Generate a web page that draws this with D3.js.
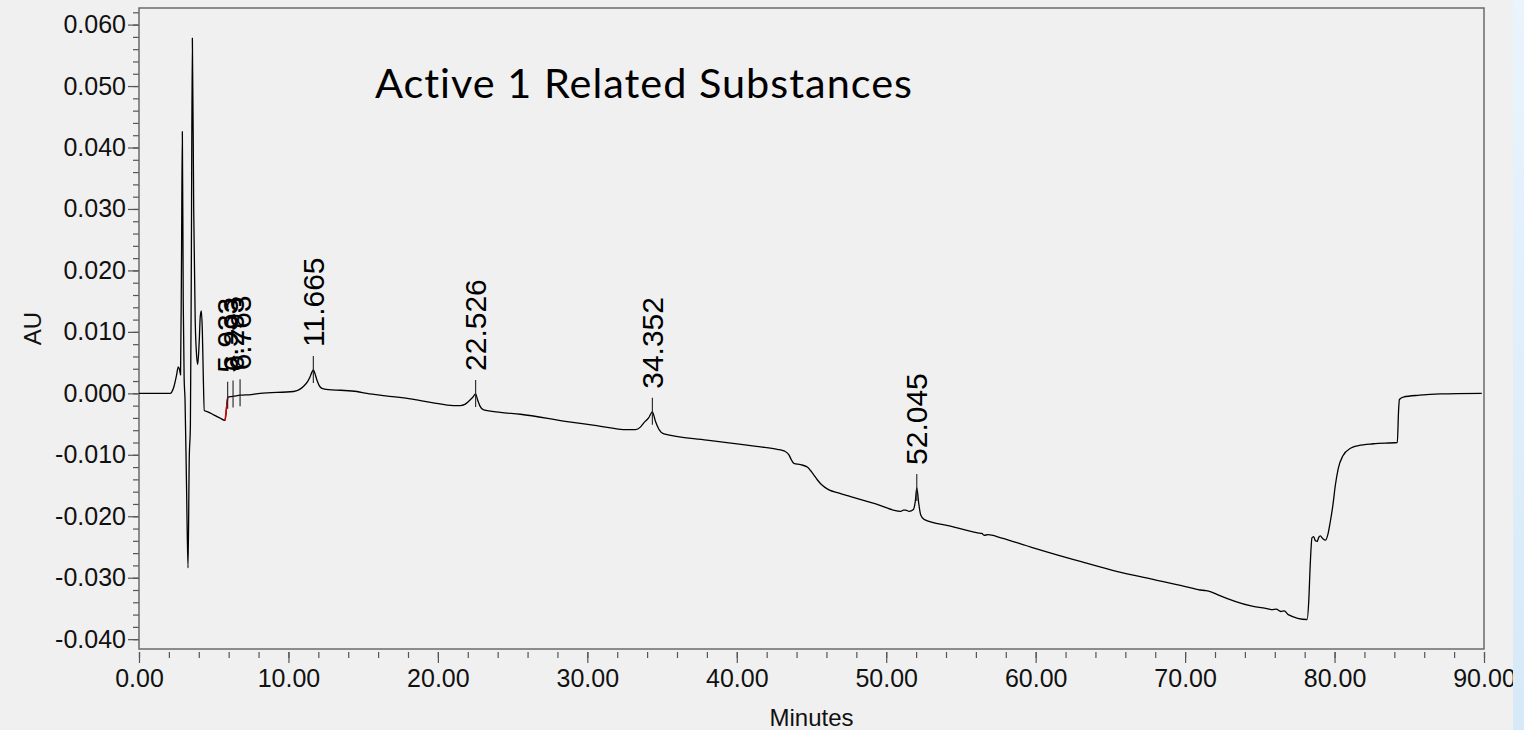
<!DOCTYPE html>
<html>
<head>
<meta charset="utf-8">
<script src="https://cdn.jsdelivr.net/npm/d3@7"></script>
<style>
  html, body { margin: 0; padding: 0; background: #f0f0f0; }
  svg { display: block; }
</style>
</head>
<body>
<svg id="chart" width="1524" height="730"></svg>
<script>
// Chromatogram trace: retention time (minutes) and detector response (AU)
const timeMin = [
  0.00, 2.10, 2.19, 2.35, 2.50, 2.63, 2.72, 2.78, 2.84, 2.90, 2.96, 3.02, 3.08, 3.18, 3.28,
  3.36, 3.44, 3.50, 3.57, 3.66, 3.76, 3.86, 3.93, 4.03, 4.10, 4.17, 4.24, 4.30, 4.37, 4.60,
  5.00, 5.40, 5.76, 5.94, 6.29, 6.77, 7.50, 8.10, 10.34, 11.00, 11.30, 11.45, 11.58, 11.665,
  11.75, 11.90, 12.05, 12.24, 12.68, 13.50, 14.58, 15.25, 16.50, 18.15, 19.60, 21.05, 21.50,
  21.80, 22.10, 22.35, 22.526, 22.65, 22.80, 23.06, 24.18, 25.52, 28.65, 30.50, 32.67, 33.22,
  33.55, 33.78, 34.10, 34.352, 34.55, 34.78, 35.12, 38.00, 40.93, 41.60, 42.71, 43.20, 43.49,
  43.65, 43.82, 44.27, 44.72, 44.95, 45.16, 45.40, 45.61, 45.90, 46.17, 46.80, 47.62, 49.30,
  50.97, 51.15, 51.31, 51.53, 51.82, 51.95, 52.045, 52.18, 52.31, 52.53, 54.30, 56.11, 56.40,
  56.55, 56.80, 57.67, 59.40, 61.02, 63.20, 65.48, 67.70, 69.95, 71.00, 71.40, 71.73, 72.20,
  74.41, 75.40, 75.80, 76.10, 76.40, 76.64, 76.90, 78.16, 78.27, 78.37, 78.49, 78.60, 78.72,
  78.83, 78.95, 79.05, 79.20, 79.39, 79.55, 79.70, 79.90, 80.05, 80.25, 80.55, 81.10, 81.60,
  82.60, 84.20, 84.28, 84.34, 84.60, 85.70, 87.07, 89.85
];
const absorbance = [
  0.0000, 0.0000, 0.0002, 0.0012, 0.0028, 0.0043, 0.0038, 0.0030, 0.0200, 0.0426, 0.0150, 0.0025, -0.0010, -0.0150, -0.0284,
  -0.0110, -0.0050, 0.0200, 0.0578, 0.0300, 0.0120, 0.0060, 0.0047, 0.0085, 0.0125, 0.0134, 0.0100, 0.0030, -0.0028, -0.0030,
  -0.0035, -0.0040, -0.0044, -0.0006, -0.0005, -0.0003, -0.0002, 0.0000, 0.0003, 0.0011, 0.0020, 0.0027, 0.0035, 0.0038,
  0.0034, 0.0022, 0.0013, 0.0008, 0.0006, 0.0005, 0.0003, 0.0000, -0.0004, -0.0009, -0.0015, -0.0020, -0.0020,
  -0.0018, -0.0012, -0.0006, -0.0001, -0.0010, -0.0020, -0.0027, -0.0031, -0.0034, -0.0046, -0.0052, -0.0059, -0.0059,
  -0.0055, -0.0048, -0.0040, -0.0030, -0.0045, -0.0058, -0.0066, -0.0076, -0.0085, -0.0087, -0.0091, -0.0094, -0.0100,
  -0.0108, -0.0114, -0.0116, -0.0120, -0.0126, -0.0133, -0.0141, -0.0147, -0.0153, -0.0157, -0.0162, -0.0168, -0.0180,
  -0.0192, -0.0190, -0.0190, -0.0192, -0.0189, -0.0175, -0.0154, -0.0180, -0.0198, -0.0205, -0.0216, -0.0227, -0.0228,
  -0.0231, -0.0230, -0.0235, -0.0248, -0.0260, -0.0275, -0.0290, -0.0302, -0.0314, -0.0320, -0.0321, -0.0323, -0.0328,
  -0.0346, -0.0350, -0.0352, -0.0351, -0.0355, -0.0354, -0.0360, -0.0368, -0.0340, -0.0280, -0.0235, -0.0233, -0.0240,
  -0.0241, -0.0234, -0.0232, -0.0236, -0.0239, -0.0230, -0.0211, -0.0180, -0.0150, -0.0122, -0.0102, -0.0089, -0.0085,
  -0.0082, -0.0080, -0.0030, -0.0010, -0.0006, -0.0003, -0.0001, 0.0000
];

// Integrated segment drawn in red (start of the 5.933 peak)
const redTime = [5.76, 5.94];
const redAU = [-0.0044, -0.0006];

// Labelled peaks: retention time, label text, apex response
const peakTimes = [5.933, 6.293, 6.763, 11.665, 22.526, 34.352, 52.045];
const peakLabels = ["5.933", "6.293", "6.763", "11.665", "22.526", "34.352", "52.045"];
const peakApex = [-0.0004, -0.0002, 0.0000, 0.0038, -0.0001, -0.0030, -0.0154];

// Axis ticks
const xMajorTicks = [0, 10, 20, 30, 40, 50, 60, 70, 80, 90];
const xMinorTicks = d3.range(0, 90.001, 2);
const yMajorTicks = [-0.04, -0.03, -0.02, -0.01, 0, 0.01, 0.02, 0.03, 0.04, 0.05, 0.06];
const yMinorTicks = d3.range(-0.04, 0.0621, 0.002);

const titleText = "Active 1 Related Substances";
const xTitle = "Minutes";
const yTitle = "AU";

const svg = d3.select("#chart");
const W = 1524, H = 730;
const plot = { left: 139, right: 1484, top: 8, bottom: 649 };

const locale = d3.formatLocale({ decimal: ".", thousands: ",", grouping: [3], currency: ["", ""], minus: "-" });

const x = d3.scaleLinear().domain([0, 90]).range([plot.left, plot.right]);
const y = d3.scaleLinear().domain([-0.0416, 0.0627]).range([plot.bottom, plot.top]);

// page background
svg.append("rect").attr("width", W).attr("height", H).attr("fill", "#f0f0f0");

const axisFont = "'Liberation Sans', Arial, sans-serif";
const axisColor = "#555";

// x axis (ticks hang just below the frame)
const gxMinor = svg.append("g").attr("transform", `translate(0,${plot.bottom + 3})`)
  .call(d3.axisBottom(x).tickValues(xMinorTicks).tickSize(6).tickFormat(""));
const gx = svg.append("g").attr("transform", `translate(0,${plot.bottom + 3})`)
  .call(d3.axisBottom(x).tickValues(xMajorTicks).tickSize(11).tickPadding(6).tickFormat(locale.format(".2f")));

// y axis
const gyMinor = svg.append("g").attr("transform", `translate(${plot.left},0)`)
  .call(d3.axisLeft(y).tickValues(yMinorTicks).tickSize(6).tickFormat(""));
const gy = svg.append("g").attr("transform", `translate(${plot.left},0)`)
  .call(d3.axisLeft(y).tickValues(yMajorTicks).tickSize(11).tickPadding(2).tickFormat(locale.format(".3f")));

[gxMinor, gx, gyMinor, gy].forEach(g => {
  g.select(".domain").remove();
  g.selectAll("line").attr("stroke", axisColor).attr("stroke-width", 1.2);
  g.selectAll("text").attr("fill", "#111").style("font-family", axisFont).style("font-size", "25px");
});

// plot frame
svg.append("rect")
  .attr("x", plot.left).attr("y", plot.top)
  .attr("width", plot.right - plot.left).attr("height", plot.bottom - plot.top)
  .attr("fill", "none").attr("stroke", "#6a6a6a").attr("stroke-width", 1.5);

// trace
const pts = timeMin.map((t, i) => [t, absorbance[i]]);
const line = d3.line().x(d => x(d[0])).y(d => y(d[1])).curve(d3.curveMonotoneX);
svg.append("path").datum(pts)
  .attr("d", line).attr("fill", "none").attr("stroke", "#000").attr("stroke-width", 1.3)
  .attr("stroke-linejoin", "round");

const redPts = redTime.map((t, i) => [t, redAU[i]]);
svg.append("path").datum(redPts)
  .attr("d", d3.line().x(d => x(d[0])).y(d => y(d[1])))
  .attr("fill", "none").attr("stroke", "#d40000").attr("stroke-width", 1.5);

// peak markers and retention-time labels
const peaks = peakTimes.map((t, i) => ({ t, label: peakLabels[i], v: peakApex[i] }));
const pk = svg.append("g");
pk.selectAll("line").data(peaks).join("line")
  .attr("x1", d => x(d.t)).attr("x2", d => x(d.t))
  .attr("y1", d => y(d.v) - 14).attr("y2", d => y(d.v) + 13)
  .attr("stroke", "#222").attr("stroke-width", 1.1);
pk.selectAll("text").data(peaks).join("text")
  .attr("transform", d => `translate(${x(d.t) + 10.5},${y(d.v) - 23}) rotate(-90)`)
  .attr("text-anchor", "start")
  .style("font-family", axisFont).style("font-size", "30px").attr("fill", "#000")
  .text(d => d.label);

// axis titles
svg.append("text")
  .attr("x", (plot.left + plot.right) / 2).attr("y", 726)
  .attr("text-anchor", "middle")
  .style("font-family", axisFont).style("font-size", "24px").attr("fill", "#111")
  .text(xTitle);
svg.append("text")
  .attr("transform", `translate(41,${(plot.top + plot.bottom) / 2}) rotate(-90)`)
  .attr("text-anchor", "middle")
  .style("font-family", axisFont).style("font-size", "24px").attr("fill", "#111")
  .text(yTitle);

// chart title, sized to its box
const title = svg.append("text")
  .attr("x", 375).attr("y", 98)
  .style("font-family", "Lato, 'Open Sans', sans-serif").style("font-size", "40px")
  .style("letter-spacing", "1px").attr("fill", "#000")
  .text(titleText);
const tw = title.node().getComputedTextLength();
title.style("font-size", (40 * 539 / tw).toFixed(2) + "px");

// light blue strip along the right edge, drawn over the axis labels
const defs = svg.append("defs");
const grad = defs.append("linearGradient").attr("id", "sideStrip").attr("x1", 0).attr("y1", 0).attr("x2", 0).attr("y2", 1);
grad.append("stop").attr("offset", "0%").attr("stop-color", "#e9f4fd");
grad.append("stop").attr("offset", "100%").attr("stop-color", "#d6e9f8");
svg.append("rect").attr("x", 1513).attr("y", 0).attr("width", 11).attr("height", H).attr("fill", "url(#sideStrip)");
</script>
</body>
</html>
